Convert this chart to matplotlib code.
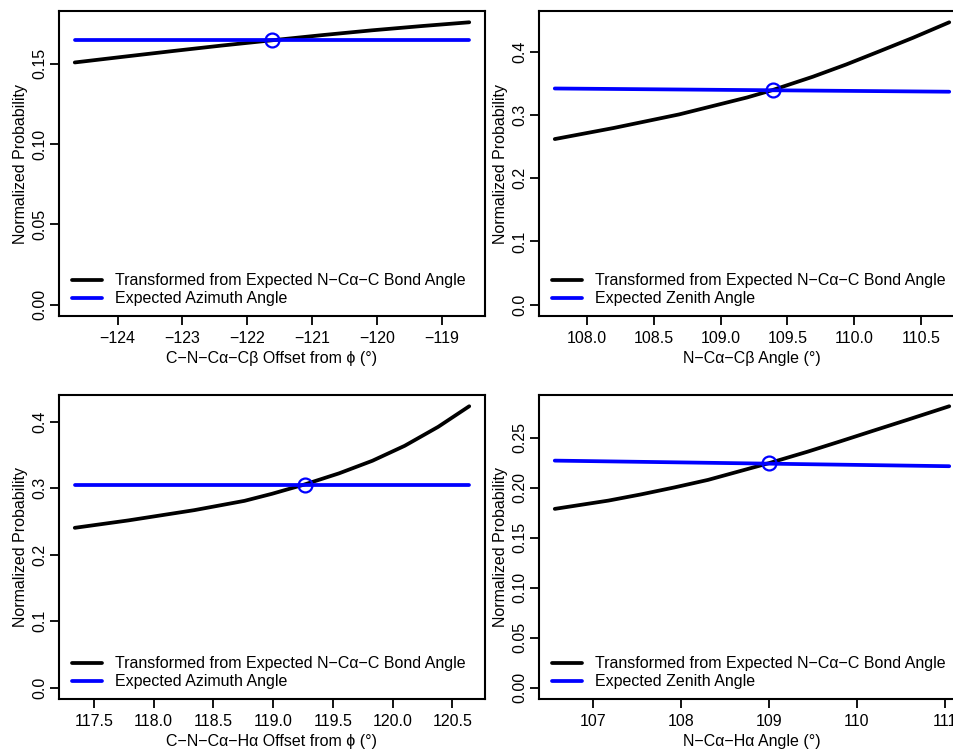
import matplotlib
matplotlib.use("Agg")
import matplotlib.pyplot as plt

# police proche de Helvetica (R)
plt.rcParams['font.family'] = ['Liberation Sans', 'DejaVu Sans']
plt.rcParams['font.size'] = 11.5

# PARTIE DONNEES

# haut gauche : azimut C-beta
az_cb_x = [-124.66, -123.9, -123.15, -122.4, -121.62, -120.85, -120.08, -119.3, -118.58]
az_cb_y = [0.1508, 0.1544, 0.1579, 0.1613, 0.1646, 0.1678, 0.1708, 0.1735, 0.1758]
az_cb_ref_x = [-124.66, -118.58]
az_cb_ref_y = [0.1646, 0.1646]
az_cb_cross = (-121.62, 0.1646)

# haut droite : zenith C-beta
zen_cb_x = [107.76, 108.2, 108.69, 109.2, 109.39, 109.69, 109.94, 110.19, 110.44, 110.71]
zen_cb_y = [0.262, 0.2795, 0.301, 0.3279, 0.3396, 0.3606, 0.380, 0.401, 0.4223, 0.4467]
zen_cb_ref_x = [107.76, 110.71]
zen_cb_ref_y = [0.342, 0.3369]
zen_cb_cross = (109.39, 0.3396)

# bas gauche : azimut H-alpha
az_ha_x = [117.34, 117.79, 118.34, 118.76, 118.99, 119.26, 119.55, 119.83, 120.10, 120.38, 120.64]
az_ha_y = [0.2406, 0.2518, 0.2672, 0.2812, 0.2918, 0.3057, 0.3225, 0.3415, 0.3640, 0.3925, 0.4235]
az_ha_ref_x = [117.34, 120.64]
az_ha_ref_y = [0.3057, 0.3057]
az_ha_cross = (119.27, 0.3057)

# bas droite : zenith H-alpha
zen_ha_x = [106.57, 107.18, 107.55, 107.93, 108.31, 109.0, 109.44, 109.81, 110.19, 110.57, 111.05]
zen_ha_y = [0.179, 0.1873, 0.1935, 0.2005, 0.208, 0.2247, 0.2362, 0.2465, 0.2573, 0.268, 0.2817]
zen_ha_ref_x = [106.57, 111.05]
zen_ha_ref_y = [0.2273, 0.2217]
zen_ha_cross = (109.0, 0.2247)

black_label = "Transformed from Expected N\u2212C\u03b1\u2212C Bond Angle"

W, H = 954, 749


def pos(left, top, width, height): # position en pixels -> fraction de figure
    return [left / W, (H - top - height) / H, width / W, height / H]


def panneau(fig, rect, x, y, ref_x, ref_y, cross, xticks, xfmt, yticks, yfmt, xlabel, ref_label):
    ax = fig.add_axes(rect)
    l1, = ax.plot(x, y, color='black', lw=2.7, solid_capstyle='round', solid_joinstyle='round')
    l2, = ax.plot(ref_x, ref_y, color='blue', lw=2.7, solid_capstyle='round')
    ax.plot(cross[0], cross[1], 'o', mfc='none', mec='blue', ms=10, mew=1.6)
    top = max(y)
    span = x[-1] - x[0]
    ax.set_xlim(x[0] - 0.04 * span, x[-1] + 0.04 * span)
    ax.set_ylim(-0.04 * top, 1.04 * top)
    ax.set_xticks(xticks)
    ax.set_xticklabels([xfmt.format(v).replace('-', '\u2212') for v in xticks])
    ax.set_yticks(yticks)
    ax.set_yticklabels([yfmt.format(v) for v in yticks], rotation=90, va='center')
    ax.tick_params(direction='out', length=6.5, width=1.3, labelsize=11.5)
    ax.tick_params(axis='x', pad=4)
    ax.tick_params(axis='y', pad=2)
    for s in ax.spines.values():
        s.set_linewidth(1.5)
    ax.set_xlabel(xlabel, labelpad=4)
    ax.set_ylabel("Normalized Probability", labelpad=3)
    ax.legend([l1, l2], [black_label, ref_label], loc='lower left',
              bbox_to_anchor=(0.03, 0.032), frameon=False, borderpad=0,
              borderaxespad=0, handlelength=1.88, handletextpad=0.82,
              labelspacing=0.19, fontsize=11.5)
    return ax


fig = plt.figure(figsize=(W / 100, H / 100), dpi=100)

panneau(fig, pos(59, 11, 426, 305), az_cb_x, az_cb_y, az_cb_ref_x, az_cb_ref_y, az_cb_cross,
        [-124, -123, -122, -121, -120, -119], '{:d}', [0, 0.05, 0.10, 0.15], '{:.2f}',
        "C\u2212N\u2212C\u03b1\u2212C\u03b2 Offset from \u03d5 (\u00b0)", "Expected Azimuth Angle")

panneau(fig, pos(539, 11, 426, 305), zen_cb_x, zen_cb_y, zen_cb_ref_x, zen_cb_ref_y, zen_cb_cross,
        [108.0, 108.5, 109.0, 109.5, 110.0, 110.5], '{:.1f}', [0, 0.1, 0.2, 0.3, 0.4], '{:.1f}',
        "N\u2212C\u03b1\u2212C\u03b2 Angle (\u00b0)", "Expected Zenith Angle")

panneau(fig, pos(59, 395, 426, 304), az_ha_x, az_ha_y, az_ha_ref_x, az_ha_ref_y, az_ha_cross,
        [117.5, 118.0, 118.5, 119.0, 119.5, 120.0, 120.5], '{:.1f}', [0, 0.1, 0.2, 0.3, 0.4], '{:.1f}',
        "C\u2212N\u2212C\u03b1\u2212H\u03b1 Offset from \u03d5 (\u00b0)", "Expected Azimuth Angle")

panneau(fig, pos(539, 395, 426, 304), zen_ha_x, zen_ha_y, zen_ha_ref_x, zen_ha_ref_y, zen_ha_cross,
        [107, 108, 109, 110, 111], '{:d}', [0, 0.05, 0.10, 0.15, 0.20, 0.25], '{:.2f}',
        "N\u2212C\u03b1\u2212H\u03b1 Angle (\u00b0)", "Expected Zenith Angle")

fig.savefig("out.png", dpi=100)
